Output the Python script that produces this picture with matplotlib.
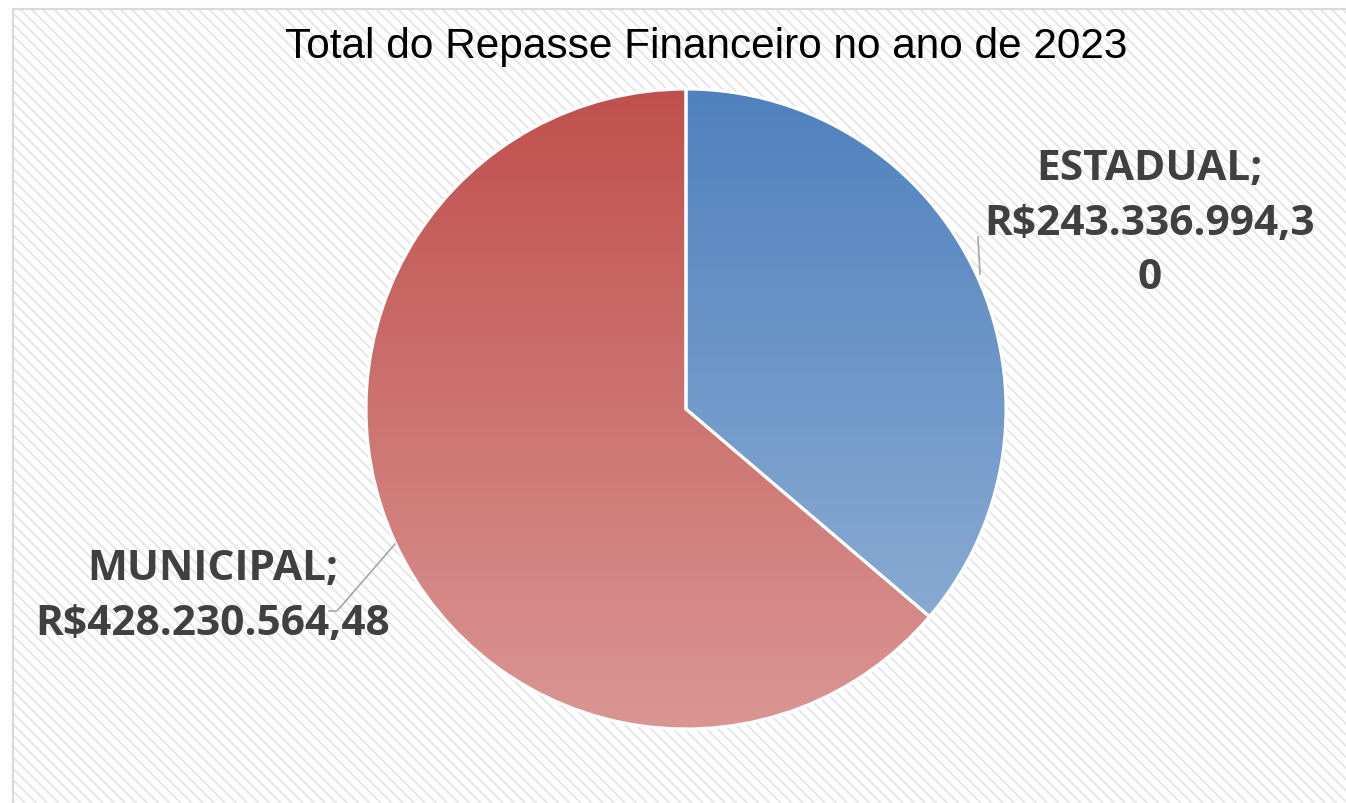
import numpy as np
import matplotlib.pyplot as plt
from matplotlib.patches import Rectangle
from matplotlib.colors import LinearSegmentedColormap
import textwrap

# data
categories = ['ESTADUAL', 'MUNICIPAL']
values = [243336994.30, 428230564.48]
top_colors = ['#4f81bd', '#c0504d']
bottom_colors = ['#95b3d7', '#da9694']
title = 'Total do Repasse Financeiro no ano de 2023'

W, H = 1346, 804
plt.rcParams['hatch.linewidth'] = 1.4

fig = plt.figure(figsize=(W / 100, H / 100), dpi=100)
ax = fig.add_axes([0, 0, 1, 1])


def brl(v):
    s = f'{v:,.2f}'
    return 'R$' + s.replace(',', '_').replace('.', ',').replace('_', '.')


cx, cy, r = 686, H - 410, 320
wedges, _ = ax.pie(values, center=(cx, cy), radius=r, startangle=90,
                   counterclock=False,
                   wedgeprops=dict(edgecolor='white', linewidth=2.2))

# vertical gradient for each slice, clipped to the wedge
grad = np.linspace(0, 1, 256).reshape(-1, 1)
for w, c0, c1 in zip(wedges, top_colors, bottom_colors):
    w.set_facecolor('none')
    cmap = LinearSegmentedColormap.from_list('g', [c0, c1])
    im = ax.imshow(grad, cmap=cmap, aspect='auto', origin='upper',
                   extent=(cx - r, cx + r, cy - r, cy + r), zorder=1)
    im.set_clip_path(w)
    w.set_zorder(2)

ax.set_xlim(0, W)
ax.set_ylim(0, H)
ax.set_aspect('auto')
ax.axis('off')

# chart area: hatched background and thin border
ax.add_patch(Rectangle((13, 0), W - 13, H - 10, facecolor='white',
                       edgecolor='#e6e6e6', hatch='\\\\\\', linewidth=0, zorder=0))
ax.add_patch(Rectangle((13, -5), W + 20, H - 10 + 5, facecolor='none',
                       edgecolor='#d9d9d9', linewidth=1.5, zorder=0.5))

ax.text(706, H - 47, title, ha='center', va='center', fontsize=30.5,
        family='Liberation Sans', color='black')

# data labels
label_pos = [(1150, H - 224), (213, H - 597)]
wrap_w = [15, 20]
for cat, v, (lx, ly), ww in zip(categories, values, label_pos, wrap_w):
    lines = [cat + ';'] + textwrap.wrap(brl(v), ww, break_long_words=True)
    ax.text(lx, ly, '\n'.join(lines), ha='center', va='center', fontsize=30.5,
            fontweight='bold', family='Open Sans', color='#404040',
            linespacing=1.45)

# leader lines
ax.plot([978, 980], [H - 238, H - 275], color='#a6a6a6', lw=1.2)
ax.plot([395, 337, 329], [H - 545, H - 612, H - 612], color='#a6a6a6', lw=1.2)

fig.savefig('out.png', dpi=100)
